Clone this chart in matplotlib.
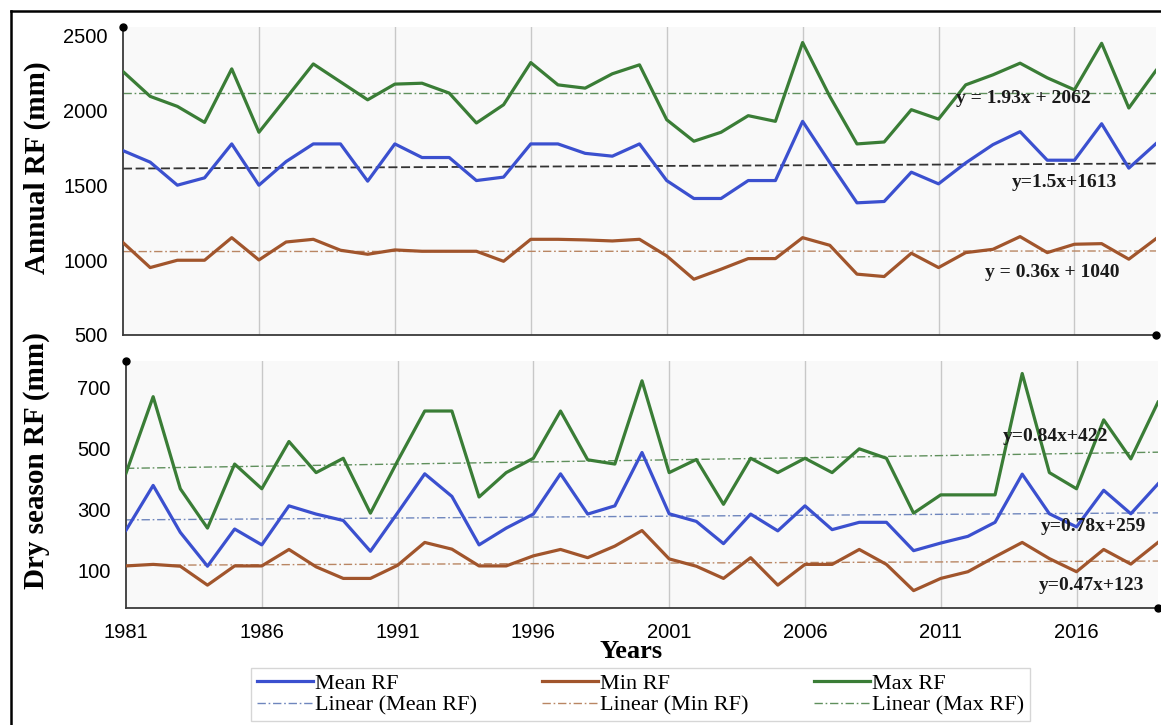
import numpy as np
import matplotlib
matplotlib.use("Agg")
import matplotlib.pyplot as plt
from matplotlib.lines import Line2D

years = list(range(1981, 2020))
grid_years = [1986, 1991, 1996, 2001, 2006, 2011, 2016]
xtick_years = [1981, 1986, 1991, 1996, 2001, 2006, 2011, 2016]

annual_mean = [1733, 1656, 1502, 1551, 1778, 1502, 1660, 1778, 1778, 1529, 1778, 1687, 1687,
               1533, 1556, 1778, 1778, 1715, 1696, 1778, 1533, 1413, 1413, 1533, 1533, 1929,
               1653, 1384, 1393, 1589, 1511, 1651, 1773, 1860, 1669, 1669, 1913, 1616, 1780]
annual_min = [1118, 951, 1000, 1000, 1151, 1002, 1122, 1140, 1067, 1040, 1069, 1060, 1060,
              1060, 993, 1140, 1140, 1136, 1129, 1140, 1029, 873, 940, 1011, 1011, 1151,
              1100, 907, 891, 1047, 951, 1051, 1073, 1158, 1051, 1107, 1111, 1007, 1144]
annual_max = [2262, 2096, 2029, 1922, 2280, 1856, 2084, 2313, 2193, 2073, 2178, 2184, 2118,
              1918, 2040, 2322, 2173, 2151, 2247, 2307, 1940, 1796, 1856, 1967, 1929, 2456,
              2096, 1778, 1791, 2007, 1944, 2173, 2240, 2318, 2220, 2140, 2451, 2018, 2269]

dry_mean = [231, 378, 224, 113, 235, 183, 311, 284, 263, 162, 288, 416, 342,
            183, 238, 284, 416, 284, 311, 486, 285, 260, 187, 284, 229, 311,
            233, 257, 257, 164, 189, 211, 257, 415, 285, 242, 362, 285, 383]
dry_min = [114, 119, 113, 51, 114, 114, 168, 111, 73, 73, 116, 191, 169,
           114, 114, 147, 168, 141, 179, 230, 137, 113, 73, 141, 51, 119,
           119, 168, 119, 33, 73, 95, 144, 191, 138, 95, 168, 120, 191]
dry_max = [418, 669, 367, 238, 448, 367, 522, 420, 467, 287, 458, 622, 622,
           340, 420, 467, 622, 462, 448, 721, 420, 463, 316, 467, 420, 467,
           420, 498, 467, 287, 347, 347, 347, 745, 420, 367, 593, 465, 651]

trend_x = [1981, 2019]
annual_trend_mean = [1613, 1647]
annual_trend_min = [1058, 1062]
annual_trend_max = [2118, 2118]
dry_trend_mean = [265, 288]
dry_trend_min = [116, 130]
dry_trend_max = [434, 487]

annual_eqs = [("y = 1.93x + 2062", 2011.65, 2079),
              ("y=1.5x+1613", 2013.7, 1517),
              ("y = 0.36x + 1040", 2012.7, 921)]
dry_eqs = [("y=0.84x+422", 2013.3, 540),
           ("y=0.78x+259", 2014.7, 242),
           ("y=0.47x+123", 2014.6, 49)]

annual_yticks = [500, 1000, 1500, 2000, 2500]
dry_yticks = [100, 300, 500, 700]

C_MEAN = "#3b50cf"
C_MIN = "#a1552c"
C_MAX = "#3a7d36"
C_TMEAN = "#6f86bd"
C_TMIN = "#b98663"
C_TMAX = "#5f8f5c"
DASHDOT = (0, (6, 2, 1.2, 2))

W, H = 1161, 725
fig = plt.figure(figsize=(W / 100, H / 100), dpi=100)
fig.patch.set_facecolor("white")

tick_font = {"family": "Liberation Sans", "size": 14.5}
serif_bold = {"family": "Liberation Serif", "weight": "bold"}


def px_axes(left, top, right, bottom):
    return fig.add_axes([left / W, 1 - bottom / H, (right - left) / W, (bottom - top) / H])


def style_axes(ax, ylim, yticks):
    ax.set_facecolor("#f9f9f9")
    ax.set_xlim(1981, 2019)
    ax.set_ylim(*ylim)
    ax.set_yticks(yticks)
    ax.set_xticks(xtick_years)
    for y in grid_years:
        ax.axvline(y, color="#c8c8c8", lw=1.0, zorder=0)
    for s in ["top", "right"]:
        ax.spines[s].set_visible(False)
    for s in ["left", "bottom"]:
        ax.spines[s].set_color("#3a3a3a")
        ax.spines[s].set_linewidth(1.3)
    ax.tick_params(length=0, pad=11)
    for lab in ax.get_yticklabels() + ax.get_xticklabels():
        lab.set_fontfamily(tick_font["family"])
        lab.set_fontsize(tick_font["size"])
        lab.set_color("#000000")
    ax.plot([0], [1], "o", color="black", ms=5, transform=ax.transAxes, clip_on=False, zorder=5)
    ax.plot([1], [0], "o", color="black", ms=5, transform=ax.transAxes, clip_on=False, zorder=5)


# Top panel: annual rainfall
ax1 = px_axes(123, 27, 1156, 335)
style_axes(ax1, (500, 2560), annual_yticks)
ax1.set_xticklabels([])
ax1.plot(years, annual_max, color=C_MAX, lw=2.3, zorder=3)
ax1.plot(years, annual_mean, color=C_MEAN, lw=2.3, zorder=3)
ax1.plot(years, annual_min, color=C_MIN, lw=2.3, zorder=3)
ax1.plot(trend_x, annual_trend_max, color=C_TMAX, lw=1.0, ls=DASHDOT, zorder=2)
ax1.plot(trend_x, annual_trend_mean, color="#333333", lw=1.3, ls=(0, (5, 2)), zorder=2)
ax1.plot(trend_x, annual_trend_min, color=C_TMIN, lw=1.0, ls=DASHDOT, zorder=2)
for txt, x, y in annual_eqs:
    ax1.text(x, y, txt, ha="left", va="center", fontsize=14, color="#1a1a1a", zorder=6, **serif_bold)

# Bottom panel: dry season rainfall
ax2 = px_axes(126, 361, 1158, 608)
style_axes(ax2, (-24, 786), dry_yticks)
ax2.plot(years, dry_max, color=C_MAX, lw=2.3, zorder=3)
ax2.plot(years, dry_mean, color=C_MEAN, lw=2.3, zorder=3)
ax2.plot(years, dry_min, color=C_MIN, lw=2.3, zorder=3)
ax2.plot(trend_x, dry_trend_max, color=C_TMAX, lw=1.0, ls=DASHDOT, zorder=2)
ax2.plot(trend_x, dry_trend_mean, color=C_TMEAN, lw=1.0, ls=DASHDOT, zorder=2)
ax2.plot(trend_x, dry_trend_min, color=C_TMIN, lw=1.0, ls=DASHDOT, zorder=2)
for txt, x, y in dry_eqs:
    ax2.text(x, y, txt, ha="left", va="center", fontsize=14, color="#1a1a1a", zorder=6, **serif_bold)

# Axis titles
fig.text(37 / W, 1 - 168 / H, "Annual RF (mm)", rotation=90, ha="center", va="center",
         fontsize=21, **serif_bold)
fig.text(37 / W, 1 - 461 / H, "Dry season RF (mm)", rotation=90, ha="center", va="center",
         fontsize=21, **serif_bold)
fig.text(631 / W, 1 - 651 / H, "Years", ha="center", va="center", fontsize=19, **serif_bold)

# Legend
handles = [
    Line2D([], [], color=C_MEAN, lw=2.3),
    Line2D([], [], color=C_TMEAN, lw=1.0, ls=DASHDOT),
    Line2D([], [], color=C_MIN, lw=2.3),
    Line2D([], [], color=C_TMIN, lw=1.0, ls=DASHDOT),
    Line2D([], [], color=C_MAX, lw=2.3),
    Line2D([], [], color=C_TMAX, lw=1.0, ls=DASHDOT),
]
labels = ["Mean RF", "Linear (Mean RF)", "Min RF", "Linear (Min RF)", "Max RF", "Linear (Max RF)"]
leg = fig.legend(handles, labels, ncol=3, loc="center",
                 bbox_to_anchor=(640.5 / W, 1 - 694.5 / H),
                 prop={"family": "Liberation Serif", "size": 16},
                 frameon=True, fancybox=False, edgecolor="#cccccc",
                 handlelength=2.5, handletextpad=0.1, columnspacing=2.95,
                 labelspacing=0.05, borderpad=0.25, borderaxespad=0)
leg.get_frame().set_linewidth(1.0)

# Outer frame (left and top edges visible)
fig.add_artist(Line2D([11 / W, 11 / W], [0, 1 - 11 / H], color="black", lw=1.8))
fig.add_artist(Line2D([11 / W, 1], [1 - 11 / H, 1 - 11 / H], color="black", lw=1.8))

fig.savefig("out.png", dpi=100, facecolor="white")
